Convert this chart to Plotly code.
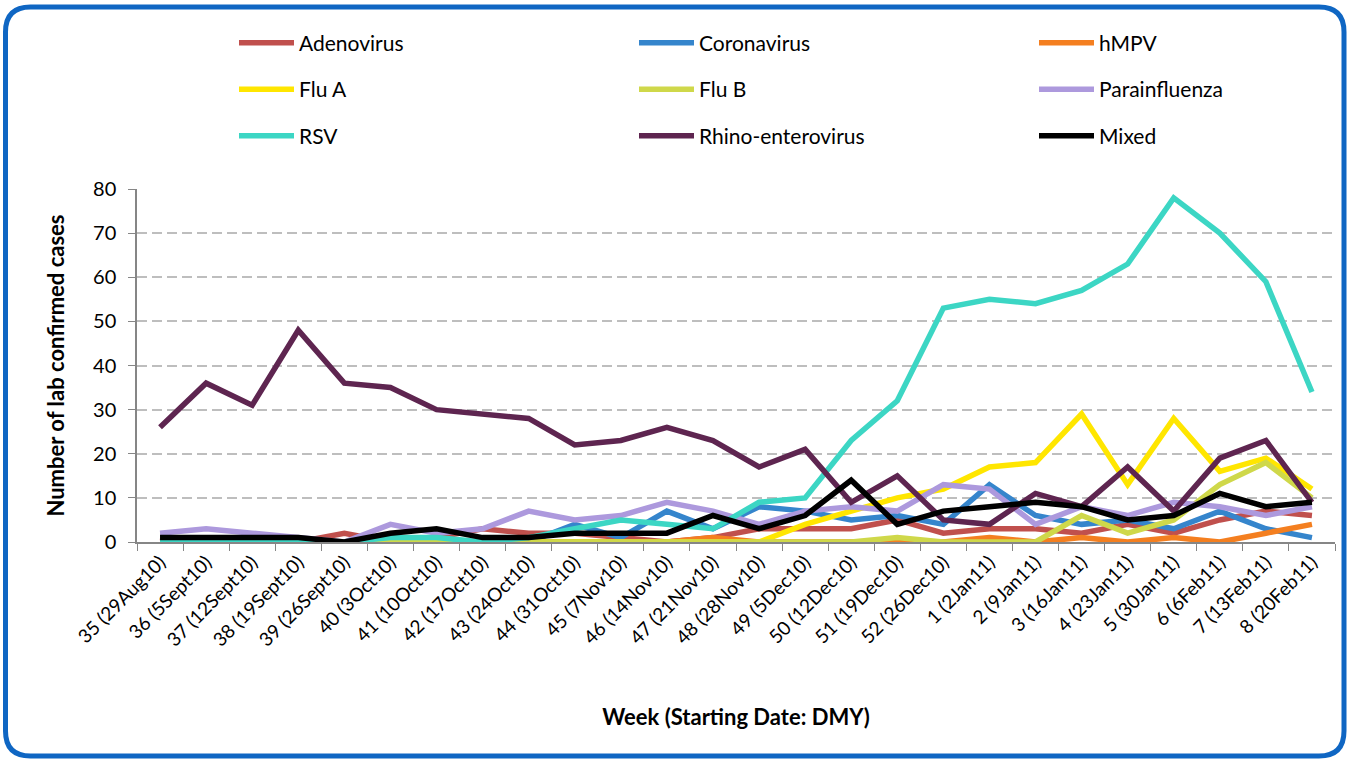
import plotly.graph_objects as go

weeks = ["35 (29Aug10)", "36 (5Sept10)", "37 (12Sept10)", "38 (19Sept10)", "39 (26Sept10)",
         "40 (3Oct10)", "41 (10Oct10)", "42 (17Oct10)", "43 (24Oct10)", "44 (31Oct10)",
         "45 (7Nov10)", "46 (14Nov10)", "47 (21Nov10)", "48 (28Nov10)", "49 (5Dec10)",
         "50 (12Dec10)", "51 (19Dec10)", "52 (26Dec10)", "1 (2Jan11)", "2 (9Jan11)",
         "3 (16Jan11)", "4 (23Jan11)", "5 (30Jan11)", "6 (6Feb11)", "7 (13Feb11)", "8 (20Feb11)"]

adenovirus = [1, 0, 0, 0, 2, 0, 1, 3, 2, 2, 1, 0, 1, 3, 3, 3, 5, 2, 3, 3, 2, 4, 2, 5, 7, 6]
coronavirus = [0, 0, 0, 0, 0, 0, 0, 0, 0, 4, 1, 7, 3, 8, 7, 5, 6, 4, 13, 6, 4, 5, 3, 7, 3, 1]
hmpv = [0, 0, 0, 0, 0, 0, 0, 0, 0, 0, 0, 0, 1, 0, 0, 0, 0, 0, 1, 0, 1, 0, 1, 0, 2, 4]
flu_a = [0, 0, 0, 0, 0, 0, 0, 0, 0, 0, 0, 0, 0, 0, 4, 7, 10, 12, 17, 18, 29, 13, 28, 16, 19, 12]
flu_b = [0, 0, 0, 0, 0, 0, 0, 0, 0, 0, 0, 0, 0, 0, 0, 0, 1, 0, 0, 0, 6, 2, 5, 13, 18, 10]
parainfluenza = [2, 3, 2, 1, 0, 4, 2, 3, 7, 5, 6, 9, 7, 4, 7, 8, 7, 13, 12, 4, 8, 6, 9, 8, 6, 8]
rsv = [0, 0, 0, 0, 0, 1, 1, 0, 1, 3, 5, 4, 3, 9, 10, 23, 32, 53, 55, 54, 57, 63, 78, 70, 59, 34]
rhino = [26, 36, 31, 48, 36, 35, 30, 29, 28, 22, 23, 26, 23, 17, 21, 9, 15, 5, 4, 11, 8, 17, 7, 19, 23, 9]
mixed = [1, 1, 1, 1, 0, 2, 3, 1, 1, 2, 2, 2, 6, 3, 6, 14, 4, 7, 8, 9, 8, 5, 6, 11, 8, 9]

series_names = ["Adenovirus", "Coronavirus", "hMPV", "Flu A", "Flu B", "Parainfluenza",
                "RSV", "Rhino-enterovirus", "Mixed"]
series_values = [adenovirus, coronavirus, hmpv, flu_a, flu_b, parainfluenza, rsv, rhino, mixed]
series_colors = ["#C0504D", "#3585CC", "#F47F20", "#FFE600", "#CFD84A", "#AD99DD",
                 "#3CD6C4", "#5E2550", "#000000"]

FONT = "Lato, Carlito, Calibri, sans-serif"

W, H = 1349, 762
ml, mr, mt, mb = 137, 14, 189, 220
pw, ph = W - ml - mr, H - mt - mb

def px(xp):
    return (xp - ml) / pw

def py(yp):
    return (H - mb - yp) / ph

fig = go.Figure()
legends = {}
for i, (name, vals, color) in enumerate(zip(series_names, series_values, series_colors)):
    key = "legend" if i == 0 else f"legend{i + 1}"
    col, row = i % 3, i // 3
    legends[key] = dict(
        x=px(234 + 400 * col), y=py(43 + 46.5 * row),
        xanchor="left", yanchor="middle", orientation="h", itemwidth=55,
        font=dict(family=FONT, size=21, color="#000000"),
        bgcolor="rgba(0,0,0,0)",
    )
    fig.add_trace(go.Scatter(
        x=weeks, y=vals, name=name, mode="lines", showlegend=True,
        line=dict(color=color, width=5.5), legend=key,
    ))

# rounded border
xl, xr, yt, yb = px(5.5), px(1344), py(7), py(756)
rx, ry = 25 / pw, 25 / ph
path = (f"M {xl+rx},{yt} L {xr-rx},{yt} Q {xr},{yt} {xr},{yt-ry} "
        f"L {xr},{yb+ry} Q {xr},{yb} {xr-rx},{yb} "
        f"L {xl+rx},{yb} Q {xl},{yb} {xl},{yb+ry} "
        f"L {xl},{yt-ry} Q {xl},{yt} {xl+rx},{yt} Z")
fig.add_shape(type="path", path=path, xref="paper", yref="paper",
              line=dict(color="#0F66C3", width=5), layer="below")

fig.update_layout(
    width=W, height=H, showlegend=True,
    margin=dict(l=ml, r=mr, t=mt, b=mb),
    paper_bgcolor="white", plot_bgcolor="white",
    font=dict(family=FONT, size=19, color="#000000"),
    xaxis=dict(
        type="category", range=[-0.5, len(weeks) - 0.5],
        tickangle=-45, tickson="boundaries", ticks="outside", ticklen=7,
        tickcolor="#868686", showline=True, linecolor="#868686", linewidth=1.5,
        showgrid=False, tickfont=dict(family=FONT, size=19, color="#000000"),
        title=dict(text="<b>Week (Starting Date: DMY)</b>", standoff=60,
                   font=dict(family=FONT, size=22, color="#000000")),
    ),
    yaxis=dict(
        range=[0, 80], dtick=10, ticks="outside", ticklen=7, tickcolor="#868686",
        showline=True, linecolor="#868686", linewidth=1.5,
        showgrid=True, gridcolor="#BEBEBE", griddash="10px,5px", gridwidth=2,
        zeroline=False, ticklabelstandoff=8,
        tickfont=dict(family=FONT, size=20, color="#000000"),
        title=dict(text="<b>Number of lab confirmed cases</b>", standoff=22,
                   font=dict(family=FONT, size=22, color="#000000")),
    ),
    **legends,
)

fig.write_html("out.html", config={"displayModeBar": False},
               post_script="document.body.style.margin='0';")
